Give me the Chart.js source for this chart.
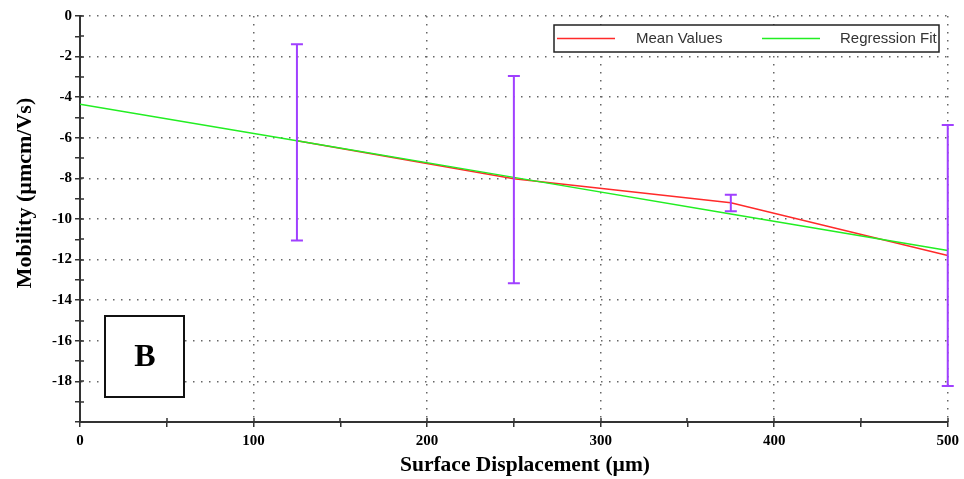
<!DOCTYPE html>
<html>
<head>
<meta charset="utf-8">
<script src="https://cdn.jsdelivr.net/npm/chart.js@4.4.0/dist/chart.umd.min.js"></script>
<style>
  html, body { margin: 0; padding: 0; background: #fff; }
  #wrap { width: 964px; height: 479px; position: relative; }
</style>
</head>
<body>
<div id="wrap"><canvas id="chart" width="964" height="479"></canvas></div>
<script>
// data
const meanX = [125, 250, 375, 500];
const meanY = [-6.15, -8.02, -9.2, -11.8];
const errLow = [-11.06, -13.17, -9.62, -18.23];
const errHigh = [-1.39, -2.96, -8.8, -5.37];
const fitX = [0, 125, 250, 375, 500];
const fitY = [-4.35, -6.15, -7.95, -9.75, -11.55];
const seriesLabels = ['Mean Values', 'Regression Fit'];
const xTitle = 'Surface Displacement (µm)';
const yTitle = 'Mobility (µmcm/Vs)';

const serif = '"Liberation Serif", "Times New Roman", serif';
const red = '#ff2a2a', green = '#22ee22', purple = '#a040ff';

// error bars, inner tick halves, titles, legend box, panel letter
const extras = {
  id: 'extras',
  afterDatasetsDraw(c) {
    const {ctx, scales: {x, y}} = c;
    ctx.save();
    ctx.strokeStyle = purple;
    ctx.lineWidth = 2;
    meanX.forEach((v, i) => {
      const px = x.getPixelForValue(v);
      const y1 = y.getPixelForValue(errLow[i]), y2 = y.getPixelForValue(errHigh[i]);
      ctx.beginPath();
      ctx.moveTo(px, y1); ctx.lineTo(px, y2);
      ctx.moveTo(px - 6, y1); ctx.lineTo(px + 6, y1);
      ctx.moveTo(px - 6, y2); ctx.lineTo(px + 6, y2);
      ctx.stroke();
    });
    ctx.restore();
  },
  afterDraw(c) {
    const {ctx, scales: {x, y}, chartArea: a} = c;
    ctx.save();
    // ticks cross the axis lines
    ctx.strokeStyle = '#333';
    ctx.lineWidth = 1.5;
    ctx.beginPath();
    y.ticks.forEach(t => {
      const py = Math.round(y.getPixelForValue(t.value));
      ctx.moveTo(a.left, py); ctx.lineTo(a.left + 4, py);
    });
    x.ticks.forEach(t => {
      const px = Math.round(x.getPixelForValue(t.value));
      ctx.moveTo(px, a.bottom); ctx.lineTo(px, a.bottom - 4);
    });
    ctx.stroke();
    // axis titles
    ctx.fillStyle = '#000';
    ctx.textAlign = 'center';
    ctx.textBaseline = 'middle';
    ctx.font = 'bold 21.5px ' + serif;
    ctx.fillText(xTitle, 525, 465);
    ctx.save();
    ctx.font = 'bold 22px ' + serif;
    ctx.translate(25, 193);
    ctx.rotate(-Math.PI / 2);
    ctx.fillText(yTitle, 0, 0);
    ctx.restore();
    // legend
    ctx.textAlign = 'left';
    ctx.fillStyle = '#fff';
    ctx.fillRect(554, 25, 385, 27);
    ctx.strokeStyle = '#222';
    ctx.lineWidth = 1.5;
    ctx.strokeRect(554, 25, 385, 27);
    ctx.strokeStyle = red;
    ctx.beginPath(); ctx.moveTo(557, 38.5); ctx.lineTo(615, 38.5); ctx.stroke();
    ctx.strokeStyle = green;
    ctx.beginPath(); ctx.moveTo(762, 38.5); ctx.lineTo(820, 38.5); ctx.stroke();
    ctx.fillStyle = '#333';
    ctx.font = '15px "Liberation Sans", Arial, sans-serif';
    ctx.fillText(seriesLabels[0], 636, 39);
    ctx.fillText(seriesLabels[1], 840, 39);
    // panel letter box
    ctx.fillStyle = '#fff';
    ctx.fillRect(105, 316, 79, 81);
    ctx.strokeStyle = '#111';
    ctx.lineWidth = 2;
    ctx.strokeRect(105, 316, 79, 81);
    ctx.fillStyle = '#000';
    ctx.font = 'bold 32px ' + serif;
    ctx.textAlign = 'center';
    ctx.fillText('B', 145, 358);
    ctx.restore();
  }
};

new Chart(document.getElementById('chart'), {
  type: 'line',
  data: {
    datasets: [
      { label: seriesLabels[0], data: meanX.map((v, i) => ({x: v, y: meanY[i]})),
        borderColor: red, borderWidth: 1.5, pointRadius: 0, order: 1, tension: 0 },
      { label: seriesLabels[1], data: fitX.map((v, i) => ({x: v, y: fitY[i]})),
        borderColor: green, borderWidth: 1.5, pointRadius: 0, order: 0, tension: 0 }
    ]
  },
  options: {
    responsive: false,
    animation: false,
    layout: { padding: { top: 16, right: 15, left: 0, bottom: 0 } },
    plugins: { legend: { display: false }, tooltip: { enabled: false } },
    scales: {
      x: {
        type: 'linear', min: 0, max: 500,
        afterFit(s) { s.height = 57; },
        ticks: {
          stepSize: 50, autoSkip: false, maxRotation: 0, padding: 5,
          color: '#000', font: { family: serif, size: 15, weight: 'bold' },
          callback: v => v % 100 === 0 ? v : ''
        },
        grid: {
          color: ctx => (ctx.tick && ctx.tick.value % 100 === 0 && ctx.tick.value > 0) ? '#666' : 'rgba(0,0,0,0)',
          lineWidth: 1.5, tickColor: '#333', tickLength: 5, tickWidth: 1.5
        },
        border: { color: '#333', width: 2, dash: [1.5, 6.5] }
      },
      y: {
        min: -20, max: 0,
        afterFit(s) { s.width = 80; },
        ticks: {
          stepSize: 1, autoSkip: false, padding: 3,
          color: '#000', font: { family: serif, size: 15, weight: 'bold' },
          callback: v => (v % 2 === 0 && v > -20) ? v : ''
        },
        grid: {
          color: ctx => (ctx.tick && ctx.tick.value % 2 === 0 && ctx.tick.value > -20) ? '#666' : 'rgba(0,0,0,0)',
          lineWidth: 1.5, tickColor: '#333', tickLength: 5, tickWidth: 1.5
        },
        border: { color: '#333', width: 2, dash: [1.5, 6.5] }
      }
    }
  },
  plugins: [extras]
});
</script>
</body>
</html>
